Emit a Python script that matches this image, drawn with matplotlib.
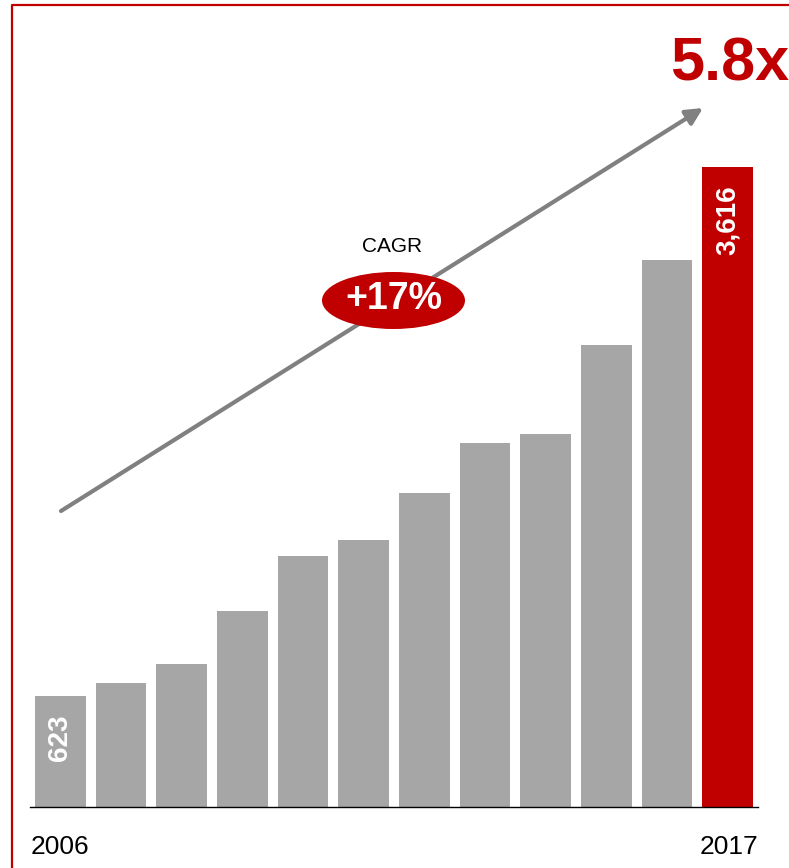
import matplotlib.pyplot as plt
from matplotlib.patches import Ellipse, FancyArrowPatch
from matplotlib.lines import Line2D

years = [2006, 2007, 2008, 2009, 2010, 2011, 2012, 2013, 2014, 2015, 2016, 2017]
values = [623, 699, 807, 1106, 1417, 1508, 1773, 2056, 2107, 2610, 3090, 3616]
shown_labels = {0: "623", 11: "3,616"}

GREY = "#A6A6A6"
RED = "#C00000"

W, H = 789, 868


def px(x, y):
    # top-left pixel -> figure fraction
    return x / W, 1 - y / H


plt.rcParams['font.family'] = ['Liberation Sans', 'DejaVu Sans']

fig = plt.figure(figsize=(W / 100, H / 100), dpi=100)
ax = fig.add_axes([30 / W, (H - 806.7) / H, 728 / W, 806.7 / H])
ax.set_xlim(-0.5, len(years) - 0.5)
ax.set_ylim(0, 4560)
ax.axis('off')

colors = [GREY] * (len(years) - 1) + [RED]
xs = list(range(len(years)))
ax.bar(xs, values, width=0.84, color=colors)
ax.axhline(0, color='black', linewidth=1, clip_on=False)

for i, lab in shown_labels.items():
    ax.annotate(lab, (xs[i], values[i]), xytext=(0, -13), textcoords='offset points',
                rotation=90, ha='center', va='top', color='white',
                fontsize=20, fontweight='bold')

# first and last year only
fig.text(*px(31, 847), str(years[0]), ha='left', va='center', fontsize=19)
fig.text(*px(758, 847), str(years[-1]), ha='right', va='center', fontsize=19)

# growth arrow
arrow = FancyArrowPatch(px(61, 511), px(703, 108), transform=fig.transFigure,
                        arrowstyle='-|>,head_length=10,head_width=5',
                        color='#808080', linewidth=3, shrinkA=0, shrinkB=0)
fig.patches.append(arrow)

# CAGR badge
ex, ey = px(393.5, 300.5)
fig.patches.append(Ellipse((ex, ey), 143 / W, 57 / H, transform=fig.transFigure,
                           facecolor=RED, edgecolor='none', zorder=5))
fig.text(ex, ey + 0.002, "+17%", ha='center', va='center', color='white',
         fontsize=27, fontweight='bold', zorder=6)
fig.text(*px(392, 247), "CAGR", ha='center', va='center', fontsize=15)

fig.text(*px(670, 65), "5.8x", ha='left', va='center', color=RED,
         fontsize=44, fontweight='bold')

# red frame on left and top
fig.lines.append(Line2D([12 / W, 12 / W, 1], [0, 1 - 4.5 / H, 1 - 4.5 / H],
                        transform=fig.transFigure, color=RED, linewidth=1.6))

fig.savefig("out.png", dpi=100)
